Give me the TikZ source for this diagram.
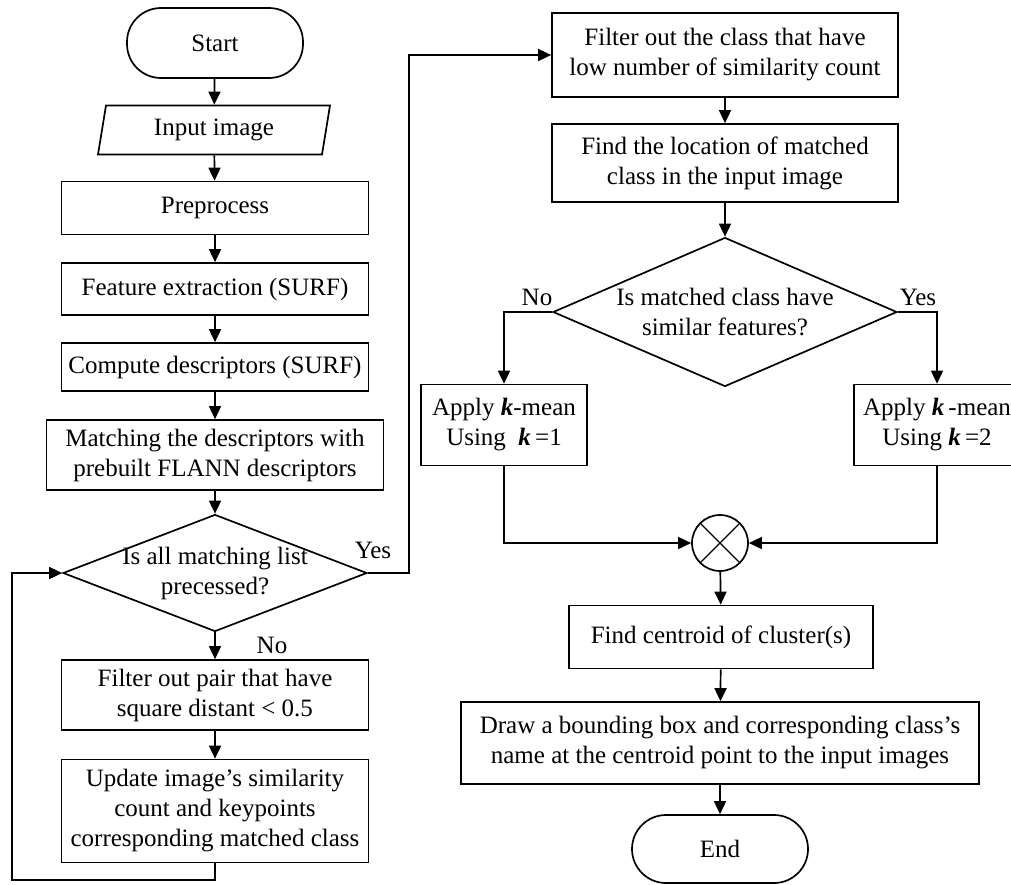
\documentclass[tikz,border=0pt]{standalone}
\usepackage{fontspec}
\setmainfont{Liberation Serif}
\usetikzlibrary{shapes.geometric}
\usetikzlibrary{arrows.meta}

\begin{document}
\begin{tikzpicture}[x=1pt,y=-1pt,line width=1.7pt,>={Triangle[length=13pt,width=12pt]},
  every node/.style={font=\fontsize{25}{30}\selectfont,align=center,inner sep=0pt},
  box/.style={draw,rectangle},
  term/.style={draw,rectangle,rounded corners=34pt,minimum width=176pt,minimum height=70pt},
  io/.style={draw,trapezium,trapezium left angle=70,trapezium right angle=110,trapezium stretches body,minimum width=232pt,minimum height=49pt},
  decide/.style={draw,diamond},
  xjoin/.style={draw,circle,minimum size=56pt,path picture={\draw[line width=1.3pt] (path picture bounding box.north west) -- (path picture bounding box.south east) (path picture bounding box.north east) -- (path picture bounding box.south west);}}]
\useasboundingbox (0,0) rectangle (1011,884);
% left column
\node[term] (start) at (215,43) {Start};
\node[io] (input) at (214,130) {Input image};
\node[box,minimum width=307pt,minimum height=53pt] (prep) at (215,208) {Preprocess};
\node[box,minimum width=307pt,minimum height=52pt] (feat) at (215,289) {Feature extraction (SURF)};
\node[box,minimum width=307pt,minimum height=48pt] (desc) at (215,367) {Compute descriptors (SURF)};
\node[box,minimum width=337pt,minimum height=70pt] (match) at (215,455) {Matching the descriptors with\\prebuilt FLANN descriptors};
\node[decide,minimum width=304pt,minimum height=117pt,label={[align=center]center:Is all matching list\\precessed?}] (done) at (215,573) {};
\node[box,minimum width=307pt,minimum height=70pt] (filt) at (215,695) {Filter out pair that have\\square distant < 0.5};
\node[box,minimum width=307pt,minimum height=103pt] (upd) at (215,811) {Update image’s similarity\\count and keypoints\\corresponding matched class};
\coordinate (back) at (12,880);
% right column
\node[box,minimum width=346pt,minimum height=84pt] (fcls) at (725,55) {Filter out the class that have\\low number of similarity count};
\node[box,minimum width=346pt,minimum height=78pt] (loc) at (725,163) {Find the location of matched\\class in the input image};
\node[decide,minimum width=344pt,minimum height=149pt,label={[align=center]center:Is matched class have\\similar features?}] (simi) at (725,312) {};
\node[box,minimum width=166pt,minimum height=81pt] (kone) at (504,425) {Apply \textbf{\textit{k}}-mean\\Using~ \textbf{\textit{k}}\,=1};
\node[box,minimum width=166pt,minimum height=81pt] (ktwo) at (937,425) {Apply \textbf{\textit{k}}\,-mean\\Using \textbf{\textit{k}}\,=2};
\node[xjoin] (join) at (720,543) {};
\node[box,minimum width=304pt,minimum height=63pt] (cent) at (721,637) {Find centroid of cluster(s)};
\node[box,minimum width=518pt,minimum height=82pt] (bbox) at (720,743) {Draw a bounding box and corresponding class’s\\name at the centroid point to the input images};
\node[term,minimum height=68pt] (stop) at (720,849) {End};
% labels
\node (yes1) at (373,550) {Yes};
\node (no1) at (272,645) {No};
\node (no2) at (537,297) {No};
\node (yes2) at (918,297) {Yes};
% connectors
\draw[->] (start) -- (input);
\draw[->] (input) -- (prep);
\draw[->] (prep) -- (feat);
\draw[->] (feat) -- (desc);
\draw[->] (desc) -- (match);
\draw[->] (match) -- (done);
\draw[->] (done) -- (filt);
\draw[->] (filt) -- (upd);
\draw[->] (upd.south) |- (back) |- (done.west);
\draw[->] (done.east) -- ++(41,0) |- (fcls.west);
\draw[->] (fcls) -- (loc);
\draw[->] (loc) -- (simi);
\draw[->] (simi.west) -| (kone.north);
\draw[->] (simi.east) -| (ktwo.north);
\draw[->] (kone.south) |- (join.west);
\draw[->] (ktwo.south) |- (join.east);
\draw[->] (join) -- (cent);
\draw[->] (cent) -- (bbox);
\draw[->] (bbox) -- (stop);
\end{tikzpicture}
\end{document}
